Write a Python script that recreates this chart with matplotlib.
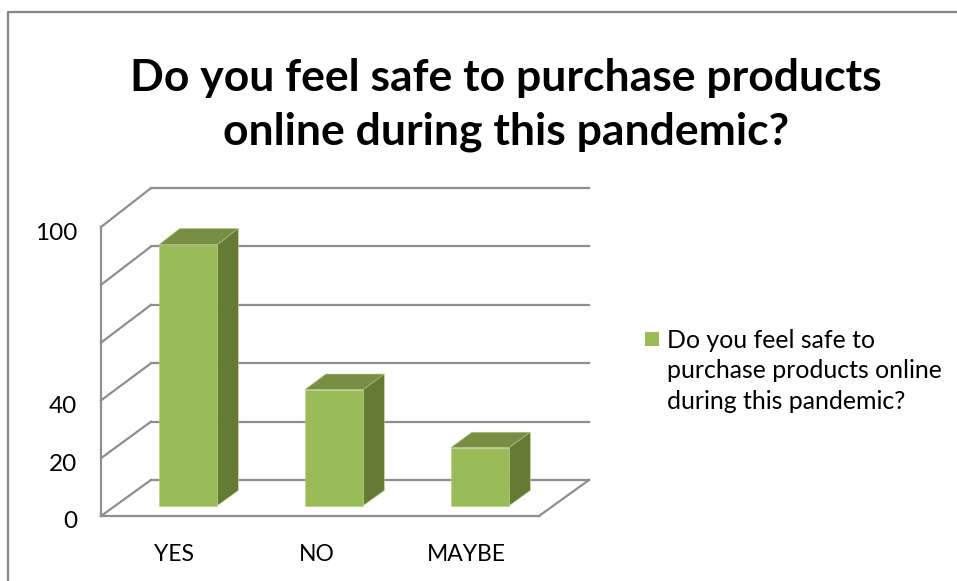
import matplotlib
matplotlib.use("Agg")
import matplotlib.pyplot as plt
from matplotlib.lines import Line2D
from matplotlib.patches import Polygon, Rectangle
from matplotlib.transforms import ScaledTranslation

categories = ["YES", "NO", "MAYBE"]
values = [90, 40, 20]
tick_values = [0, 20, 40, 100]
grid_values = [0, 20, 40, 60, 80, 100]
title = "Do you feel safe to purchase products\nonline during this pandemic?"
series_name = "Do you feel safe to\npurchase products online\nduring this pandemic?"

W, H = 957, 581
FRONT, TOP, SIDE = "#9BBB59", "#778F42", "#657A35"
GRID, FRAME = "#8E8E8E", "#868686"
plt.rcParams["font.family"] = ["Lato", "DejaVu Sans"]

fig = plt.figure(figsize=(W / 100, H / 100), dpi=100, facecolor="white")
ax = fig.add_axes([101 / W, 1 - 516 / H, 438 / W, 289 / H])
ax.set_xlim(0, 3)
ax.set_ylim(0, 100)
ax.patch.set_visible(False)
for s in ax.spines.values():
    s.set_visible(False)

# oblique projection: depth 0..1 shifts a point right and up, with a slight perspective
DX, DY, PERSP = 50 / 146, 36 / 2.89, 0.01


def p(x, v, d):
    return (x + d * DX, v * (1 + PERSP * d) + d * DY)


def seg(a, b, z=1):
    ax.add_line(Line2D(*zip(a, b), color=GRID, lw=1.6, zorder=z, clip_on=False,
                       solid_capstyle="projecting"))


for v in grid_values:
    seg(p(0, v, 0), p(0, v, 1))
    seg(p(0, v, 1), p(3, v, 1))
seg(p(0, 0, 0), p(0, 100, 0))
seg(p(0, 0, 0), p(3, 0, 0))
seg(p(3, 0, 0), p(3, 0, 1))

d0, d1, width = 0.29, 0.71, 0.4
for i, val in enumerate(values):
    xl, xr = i + 0.497 - width / 2, i + 0.497 + width / 2
    faces = [
        ([p(xl, val, d0), p(xr, val, d0), p(xr, val, d1), p(xl, val, d1)], TOP),
        ([p(xr, 0, d0), p(xr, val, d0), p(xr, val, d1), p(xr, 0, d1)], SIDE),
        ([p(xl, 0, d0), p(xr, 0, d0), p(xr, val, d0), p(xl, val, d0)], FRONT),
    ]
    for pts, col in faces:
        ax.add_patch(Polygon(pts, closed=True, facecolor=col, edgecolor="#B4CB85",
                             lw=0.4, zorder=3, clip_on=False))

ax.set_xticks([i + 0.5 for i in range(len(categories))], categories)
ax.set_yticks(tick_values, [str(v) for v in tick_values])
ax.tick_params(axis="x", length=0, pad=20, labelsize=16.5, labelcolor="black")
ax.tick_params(axis="y", length=0, pad=17, labelsize=17.5, labelcolor="black")
for lab in ax.get_yticklabels():
    lab.set_transform(lab.get_transform() + ScaledTranslation(0, -4 / 100, fig.dpi_scale_trans))
ax.get_xticklabels()[1].set_transform(
    ax.get_xticklabels()[1].get_transform() + ScaledTranslation(-3 / 100, 0, fig.dpi_scale_trans))

fig.text(506 / W, 1 - 105 / H, title, ha="center", va="center", fontsize=32,
         fontweight="bold", color="black", linespacing=1.42)

# legend
fig.add_artist(Rectangle((645 / W, 1 - 346 / H), 14 / W, 14 / H, facecolor=FRONT,
                         edgecolor="none", transform=fig.transFigure))
fig.text(667 / W, 1 - 371 / H, series_name, ha="left", va="center", fontsize=17.9,
         color="black", linespacing=1.41)

fig.add_artist(Line2D([8 / W, 8 / W, 1], [0, 1 - 12 / H, 1 - 12 / H], color=FRAME, lw=1.6,
                      transform=fig.transFigure))

fig.savefig("out.png", dpi=100, facecolor="white")
